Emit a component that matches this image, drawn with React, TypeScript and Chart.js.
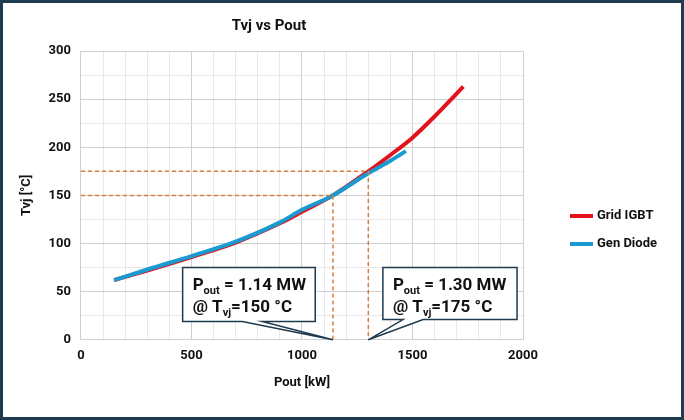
import React, { useEffect, useRef } from "react";
import { Chart, registerables } from "chart.js";
Chart.register(...registerables);

const igbtX = [150, 300, 500, 700, 900, 1000, 1140, 1300, 1400, 1500, 1600, 1730];
const igbtY = [62, 72, 86, 101, 121, 133, 150, 175, 192, 210, 232, 263];
const diodeX = [150, 300, 500, 700, 900, 1000, 1140, 1300, 1400, 1470];
const diodeY = [62, 73, 87, 102, 122, 135, 150, 173, 186, 196];
const markers = [
  { p: 1140, t: 150, l1: "1.14 MW", l2: "150 °C", box: [460, 1060, 75, 19] },
  { p: 1300, t: 175, l1: "1.30 MW", l2: "175 °C", box: [1366, 1973, 75, 21] },
];
const FONT = "Roboto";

const overlay = {
  id: "overlay",
  afterDatasetsDraw(chart: any) {
    const { ctx, scales } = chart;
    const x = scales.x, y = scales.y;
    ctx.save();
    ctx.strokeStyle = "#e07b39";
    ctx.lineWidth = 1.5;
    ctx.setLineDash([4, 3]);
    for (const m of markers) {
      ctx.beginPath();
      ctx.moveTo(x.getPixelForValue(0), y.getPixelForValue(m.t));
      ctx.lineTo(x.getPixelForValue(m.p), y.getPixelForValue(m.t));
      ctx.lineTo(x.getPixelForValue(m.p), y.getPixelForValue(0));
      ctx.stroke();
    }
    ctx.setLineDash([]);
    for (const m of markers) {
      const [x0v, x1v, ytv, ybv] = m.box;
      const x0 = x.getPixelForValue(x0v), x1 = x.getPixelForValue(x1v);
      const yt = y.getPixelForValue(ytv), yb = y.getPixelForValue(ybv);
      const tipX = x.getPixelForValue(m.p), tipY = y.getPixelForValue(0);
      const w = x1 - x0;
      ctx.beginPath();
      ctx.moveTo(x0, yt);
      ctx.lineTo(x1, yt);
      ctx.lineTo(x1, yb);
      if (tipX > x1 - w / 2) { ctx.lineTo(x0 + w * 0.6, yb); ctx.lineTo(tipX, tipY); ctx.lineTo(x0 + w * 0.45, yb); }
      else { ctx.lineTo(x0 + w * 0.3, yb); ctx.lineTo(tipX, tipY); ctx.lineTo(x0 + w * 0.15, yb); }
      ctx.lineTo(x0, yb);
      ctx.closePath();
      ctx.fillStyle = "#fff";
      ctx.fill();
      ctx.strokeStyle = "#1f3b4f";
      ctx.lineWidth = 1.5;
      ctx.stroke();
      ctx.fillStyle = "#111";
      ctx.textBaseline = "alphabetic";
      let tx = x0 + 10, ty = yt + 22;
      const draw = (s: string, sz: number, dy = 0) => {
        ctx.font = `bold ${sz}px ${FONT}`;
        ctx.fillText(s, tx, ty + dy);
        tx += ctx.measureText(s).width;
      };
      draw("P", 17); draw("out", 11, 4); draw(" = " + m.l1, 17);
      tx = x0 + 10; ty = yt + 44;
      draw("@ T", 17); draw("vj", 11, 4); draw("=" + m.l2, 17);
    }
    const ds = chart.data.datasets;
    ctx.font = `bold 13px ${FONT}`;
    ds.forEach((d: any, i: number) => {
      const ly = 213 + i * 28;
      ctx.strokeStyle = d.borderColor;
      ctx.lineWidth = 4;
      ctx.beginPath();
      ctx.moveTo(567, ly);
      ctx.lineTo(590, ly);
      ctx.stroke();
      ctx.fillStyle = "#111";
      ctx.textBaseline = "middle";
      ctx.fillText(d.label, 594, ly);
    });
    ctx.restore();
  },
};

export default function App() {
  const ref = useRef<HTMLCanvasElement>(null);
  useEffect(() => {
    const chart = new Chart(ref.current!, {
      type: "scatter",
      data: {
        datasets: [
          { label: "Grid IGBT", order: 1, data: igbtX.map((v, i) => ({ x: v, y: igbtY[i] })), showLine: true, borderColor: "#e3131b", borderWidth: 4, pointRadius: 0, cubicInterpolationMode: "monotone" },
          { label: "Gen Diode", order: 0, data: diodeX.map((v, i) => ({ x: v, y: diodeY[i] })), showLine: true, borderColor: "#1a9ad0", borderWidth: 4, pointRadius: 0, cubicInterpolationMode: "monotone" },
        ],
      },
      options: {
        animation: false,
        responsive: false,
        layout: { padding: { left: 12, right: 158, top: 0, bottom: 22 } },
        plugins: {
          legend: { display: false },
          tooltip: { enabled: false },
          title: { display: true, text: "Tvj vs Pout", color: "#111", font: { family: FONT, size: 15, weight: "bold" }, padding: { top: 14, bottom: 16 } },
        },
        scales: {
          x: {
            min: 0, max: 2000,
            ticks: { stepSize: 100, autoSkip: false, color: "#111", padding: 8, font: { family: FONT, size: 13, weight: "bold" }, maxRotation: 0, callback: (v: any) => (v % 500 === 0 ? String(v) : "") },
            grid: { color: (c: any) => (c.tick.value % 500 === 0 ? "#cfcfcf" : "#e8e8e8"), drawTicks: false },
            border: { display: false },
            title: { display: true, text: "Pout [kW]", color: "#111", font: { family: FONT, size: 13, weight: "bold" } },
          },
          y: {
            min: 0, max: 300,
            ticks: { stepSize: 25, autoSkip: false, color: "#111", padding: 10, font: { family: FONT, size: 13, weight: "bold" }, callback: (v: any) => (v % 50 === 0 ? String(v) : "") },
            grid: { color: (c: any) => (c.tick.value % 50 === 0 ? "#cfcfcf" : "#e8e8e8"), drawTicks: false },
            border: { display: false },
            title: { display: true, text: "Tvj [°C]", color: "#111", font: { family: FONT, size: 13, weight: "bold" } },
          },
        },
      } as any,
      plugins: [overlay],
    });
    return () => chart.destroy();
  }, []);
  return (
    <div style={{ position: "absolute", left: 0, top: 0, width: 684, height: 420, border: "3px solid #1f3b4f", boxSizing: "border-box", background: "#fff" }}>
      <canvas ref={ref} width={678} height={414} />
    </div>
  );
}
